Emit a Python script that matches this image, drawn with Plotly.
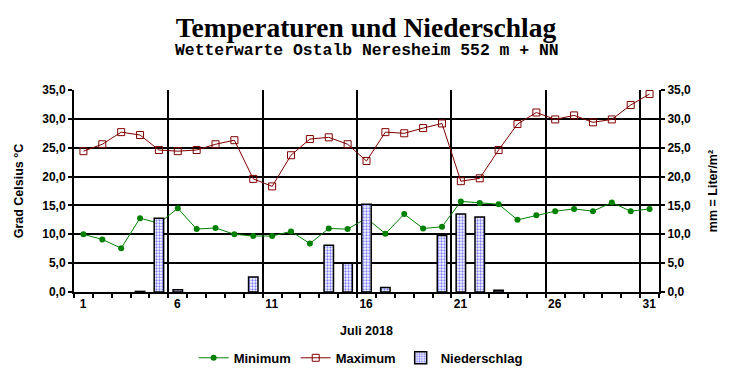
import plotly.graph_objects as go

# ---- data ----
days = list(range(1, 32))
minimum = [10.0, 9.1, 7.6, 12.8, 11.9, 14.5, 10.9, 11.1, 10.0, 9.7,
           9.7, 10.5, 8.4, 11.0, 10.9, 12.8, 10.1, 13.5, 11.0, 11.3,
           15.7, 15.4, 15.2, 12.5, 13.3, 14.0, 14.4, 14.0, 15.5, 14.0, 14.4]
maximum = [24.4, 25.6, 27.7, 27.2, 24.6, 24.4, 24.6, 25.6, 26.3, 19.6,
           18.3, 23.7, 26.5, 26.8, 25.6, 22.7, 27.7, 27.5, 28.4, 29.2,
           19.2, 19.7, 24.6, 29.1, 31.1, 29.9, 30.6, 29.4, 29.9, 32.4, 34.3]
niederschlag = [0, 0, 0, 0.1, 12.8, 0.4, 0, 0, 0, 2.6,
                0, 0, 0, 8.1, 5.0, 15.2, 0.8, 0, 0, 9.8,
                13.5, 13.0, 0.3, 0, 0, 0, 0, 0, 0, 0, 0]
x_tick_labels = ["1", "6", "11", "16", "21", "26", "31"]

title_text = "Temperaturen und Niederschlag"
subtitle_text = "Wetterwarte Ostalb Neresheim 552 m + NN"

SANS = "Arial, Liberation Sans, sans-serif"
W, H = 732, 380
L, R, T, B = 74, 73, 89.5, 88
plot_h = H - T - B

fig = go.Figure()

# days without rain get no bar at all
bar_values = [v if v > 0 else None for v in niederschlag]

fig.add_trace(go.Bar(
    x=days, y=bar_values, name="Niederschlag", yaxis="y2",
    width=0.5,
    marker=dict(color="white",
                line=dict(color="black", width=1.5),
                pattern=dict(shape=".", fgcolor="#0000ff", bgcolor="white",
                             size=3, solidity=0.45, fillmode="overlay")),
    legendrank=3,
))
fig.add_trace(go.Scatter(
    x=days, y=minimum, name="Minimum", mode="lines+markers",
    line=dict(color="#008000", width=1),
    marker=dict(symbol="circle", size=6, color="#008000"),
    legendrank=1,
))
fig.add_trace(go.Scatter(
    x=days, y=maximum, name="Maximum", mode="lines+markers",
    line=dict(color="#800000", width=1),
    marker=dict(symbol="square-open", size=7, color="#800000",
                line=dict(width=1, color="#800000")),
    legendrank=2,
))

# major ticks sit on day boundaries (grid every 5 days), labels shifted to day centers
major_pos = [d - 0.5 for d in days[::5]]
day_px = (W - L - R) / len(days)

fig.update_layout(
    width=W, height=H,
    margin=dict(l=L, r=R, t=T, b=B, autoexpand=False),
    paper_bgcolor="white", plot_bgcolor="white",
    separators=",.",
    showlegend=True,
    font=dict(family=SANS, size=12, color="black", weight="bold"),
    title=dict(text=title_text, x=0.5, xanchor="center",
               y=1 - 27 / H, yanchor="middle",
               font=dict(family="Liberation Serif, Times New Roman, serif",
                         size=27.5, weight="bold", color="black")),
    annotations=[dict(text=subtitle_text, xref="paper", yref="paper",
                      x=0.5, y=(H - B - 50) / plot_h, xanchor="center",
                      yanchor="middle", showarrow=False,
                      font=dict(family="Liberation Mono, Courier New, monospace",
                                size=16.4, weight="bold", color="black"))],
    xaxis=dict(
        range=[0.5, 31.5], tickmode="array", tickvals=major_pos,
        ticktext=x_tick_labels, ticklabelshift=int(round(day_px / 2)),
        ticks="", showgrid=True, gridcolor="black", gridwidth=2,
        showline=True, linecolor="black", linewidth=2, zeroline=False,
        minor=dict(tickmode="linear", tick0=0.5, dtick=1, ticks="outside",
                   ticklen=4, tickcolor="black", tickwidth=2, showgrid=False),
        tickfont=dict(size=12, weight="bold"),
        title=dict(text="Juli 2018", standoff=16,
                   font=dict(size=12.5, weight="bold")),
        automargin=False, fixedrange=True,
    ),
    yaxis=dict(
        range=[0, 35], dtick=5, tick0=0, tickformat=".1f",
        ticks="outside", ticklen=4, tickcolor="black", tickwidth=2,
        showgrid=True, gridcolor="black", gridwidth=2,
        showline=True, linecolor="black", linewidth=2, zeroline=False,
        tickfont=dict(size=12, weight="bold"),
        title=dict(text="Grad Celsius °C", standoff=16,
                   font=dict(size=12.5, weight="bold")),
        automargin=False, fixedrange=True,
    ),
    yaxis2=dict(
        range=[0, 35], dtick=5, tick0=0, tickformat=".1f",
        overlaying="y", side="right", anchor="x",
        ticks="outside", ticklen=4, tickcolor="black", tickwidth=2,
        showgrid=False, showline=True, linecolor="black", linewidth=2,
        zeroline=False,
        tickfont=dict(size=12, weight="bold"),
        title=dict(text="mm = Liter/m²", standoff=18,
                   font=dict(size=12.5, weight="bold")),
        automargin=False, fixedrange=True,
    ),
    legend=dict(orientation="h", x=0.49, xanchor="center",
                y=-(358 - (H - B)) / plot_h, yanchor="middle",
                font=dict(size=13, weight="bold"),
                bgcolor="rgba(0,0,0,0)"),
    bargap=0.5,
)

fig.write_html("out.html",
               config={"displayModeBar": False, "staticPlot": True},
               post_script="document.body.style.margin='0';"
                           "document.body.style.overflow='hidden';")
